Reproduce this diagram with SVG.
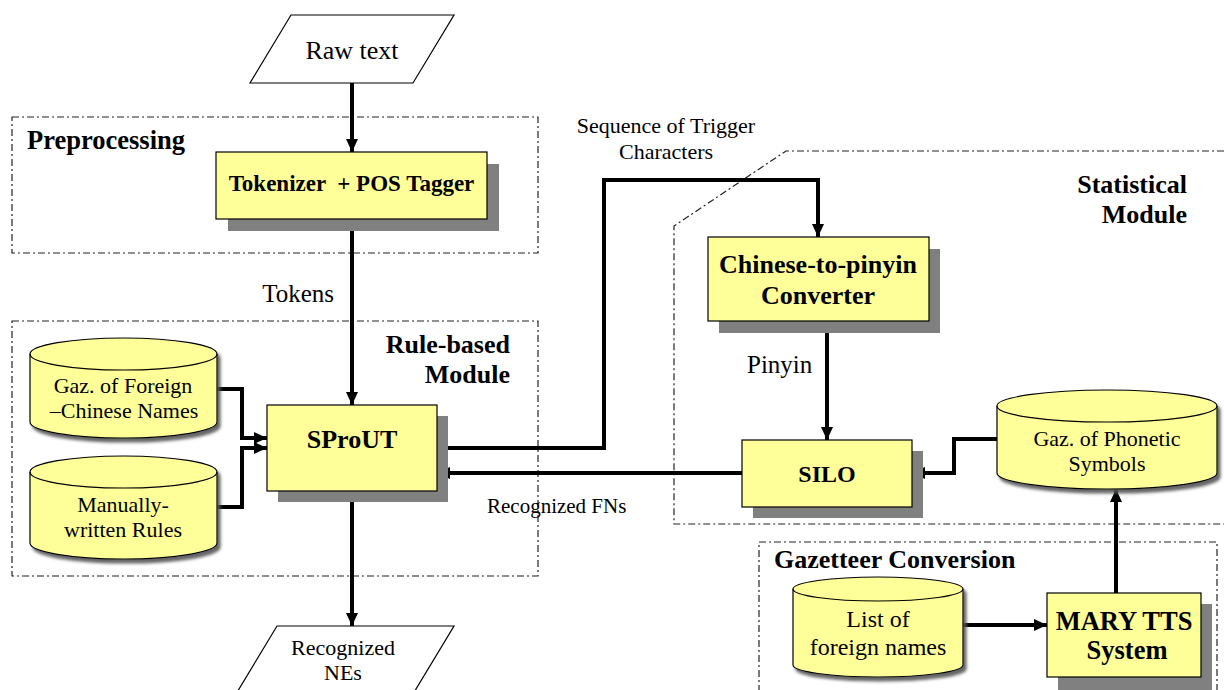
<svg xmlns="http://www.w3.org/2000/svg" width="1224" height="690" viewBox="0 0 1224 690">
<style>
.reg{font-family:"Liberation Serif","Times New Roman",serif;fill:#000}
.b{font-family:"Liberation Serif","Times New Roman",serif;font-weight:bold;fill:#000}
.mid{text-anchor:middle}
.box{fill:#ffff99;stroke:#000;stroke-width:1.2}
.shadow{fill:#808080}
.cyl{fill:#ffff99;stroke:#000;stroke-width:1.2}
.group{fill:none;stroke:#222;stroke-width:1.2;stroke-dasharray:7 3 2 3}
.io{fill:#fff;stroke:#000;stroke-width:1.2}
.conn{fill:none;stroke:#000;stroke-width:4;stroke-linejoin:miter}
</style>
<defs>
<marker id="arr" markerUnits="userSpaceOnUse" markerWidth="14" markerHeight="14" viewBox="0 0 14 14" refX="13" refY="7" orient="auto">
<path d="M0,1 L13,7 L0,13 Z" fill="#000"/>
</marker>
<filter id="cs" x="-10%" y="-10%" width="125%" height="130%">
<feDropShadow dx="3" dy="4" stdDeviation="1.5" flood-color="#555" flood-opacity="0.9"/>
</filter>
</defs>

<g id="groups">
<rect id="preprocessing" class="group" x="12" y="117" width="526" height="136"/>
<rect id="rule-based" class="group" x="12" y="321" width="526" height="255"/>
<path id="statistical" class="group" d="M1224,151 L786,151 L674,226 L674,524 L1224,524"/>
<path id="gazetteer" class="group" d="M759,692 L759,542 L1217,542 L1217,692"/>
<text class="b" x="27" y="149" font-size="26.5">Preprocessing</text>
<text class="b" x="510" y="353" font-size="26" text-anchor="end">Rule-based</text>
<text class="b" x="510" y="383" font-size="26" text-anchor="end">Module</text>
<text class="b" x="1187" y="193" font-size="26" text-anchor="end">Statistical</text>
<text class="b" x="1187" y="223" font-size="26" text-anchor="end">Module</text>
<text class="b" x="774" y="568" font-size="26">Gazetteer Conversion</text>
</g>

<g id="connectors">
<path class="conn" d="M352,83 V152" marker-end="url(#arr)"/>
<path class="conn" d="M352,219 V405" marker-end="url(#arr)"/>
<path class="conn" d="M217,389 H242 V438 H267" marker-end="url(#arr)"/>
<path class="conn" d="M217,507 H242 V448 H267" marker-end="url(#arr)"/>
<path class="conn" d="M437,448 H604 V180 H818 V237" marker-end="url(#arr)"/>
<path class="conn" d="M827,321 V440" marker-end="url(#arr)"/>
<path class="conn" d="M742,473 H437" marker-end="url(#arr)"/>
<path class="conn" d="M997,439 H954 V473 H912" marker-end="url(#arr)"/>
<path class="conn" d="M352,491 V626" marker-end="url(#arr)"/>
<path class="conn" d="M963,625 H1047" marker-end="url(#arr)"/>
<path class="conn" d="M1116,593 V489" marker-end="url(#arr)"/>
<text class="reg" x="334" y="302" font-size="25" text-anchor="end">Tokens</text>
<text class="reg mid" x="666" y="133" font-size="22">Sequence of Trigger</text>
<text class="reg mid" x="666" y="159" font-size="22">Characters</text>
<text class="reg" x="747" y="373" font-size="25">Pinyin</text>
<text class="reg" x="487" y="513" font-size="21">Recognized FNs</text>
</g>

<g id="raw-text">
<polygon class="io" points="291,15 454,15 413,83 250,83"/>
<text class="reg mid" x="352" y="59" font-size="26">Raw text</text>
</g>

<g id="tokenizer">
<rect class="shadow" x="228" y="164" width="271" height="67"/>
<rect class="box" x="216" y="152" width="271" height="67"/>
<text class="b mid" x="351.5" y="191" font-size="23" style="white-space:pre">Tokenizer  + POS Tagger</text>
</g>

<g id="sprout">
<rect class="shadow" x="278" y="416" width="170" height="86"/>
<rect class="box" x="267" y="405" width="170" height="86"/>
<text class="b mid" x="352" y="448" font-size="26">SProUT</text>
</g>

<g id="gaz-foreign">
<path class="cyl" filter="url(#cs)" d="M30,354 A93.5,16 0 0 1 217,354 V422 A93.5,16 0 0 1 30,422 Z"/>
<path fill="none" stroke="#000" stroke-width="1.2" d="M30,354 A93.5,16 0 0 0 217,354"/>
<text class="reg mid" x="123" y="393" font-size="22">Gaz. of Foreign</text>
<text class="reg mid" x="124" y="418" font-size="22">–Chinese Names</text>
</g>

<g id="manual-rules">
<path class="cyl" filter="url(#cs)" d="M30,472 A93.5,16 0 0 1 217,472 V543 A93.5,16 0 0 1 30,543 Z"/>
<path fill="none" stroke="#000" stroke-width="1.2" d="M30,472 A93.5,16 0 0 0 217,472"/>
<text class="reg mid" x="123" y="512" font-size="22">Manually-</text>
<text class="reg mid" x="123" y="537" font-size="22">written Rules</text>
</g>

<g id="recognized-nes">
<polygon class="io" points="277,626 454,626 413,694 236,694"/>
<text class="reg mid" x="343" y="655" font-size="22">Recognized</text>
<text class="reg mid" x="343" y="680" font-size="22">NEs</text>
</g>

<g id="chinese-to-pinyin">
<rect class="shadow" x="719" y="249" width="221" height="84"/>
<rect class="box" x="708" y="237" width="221" height="84"/>
<text class="b mid" x="818" y="273" font-size="26">Chinese-to-pinyin</text>
<text class="b mid" x="818" y="304" font-size="26">Converter</text>
</g>

<g id="silo">
<rect class="shadow" x="753" y="451" width="170" height="67"/>
<rect class="box" x="742" y="440" width="170" height="67"/>
<text class="b mid" x="827" y="482" font-size="24">SILO</text>
</g>

<g id="gaz-phonetic">
<path class="cyl" filter="url(#cs)" d="M997,406 A110,16 0 0 1 1217,406 V473 A110,16 0 0 1 997,473 Z"/>
<path fill="none" stroke="#000" stroke-width="1.2" d="M997,406 A110,16 0 0 0 1217,406"/>
<text class="reg mid" x="1107" y="446" font-size="22">Gaz. of Phonetic</text>
<text class="reg mid" x="1107" y="471" font-size="22">Symbols</text>
</g>

<g id="list-foreign">
<path class="cyl" filter="url(#cs)" d="M793,589 A85,12 0 0 1 963,589 V665 A85,12 0 0 1 793,665 Z"/>
<path fill="none" stroke="#000" stroke-width="1.2" d="M793,589 A85,12 0 0 0 963,589"/>
<text class="reg mid" x="878" y="627" font-size="24">List of</text>
<text class="reg mid" x="878" y="655" font-size="24">foreign names</text>
</g>

<g id="mary-tts">
<rect class="shadow" x="1058" y="604" width="154" height="90"/>
<rect class="box" x="1047" y="593" width="154" height="84"/>
<text class="b mid" x="1124" y="630" font-size="26.5">MARY TTS</text>
<text class="b mid" x="1127" y="659" font-size="26.5">System</text>
</g>
</svg>
